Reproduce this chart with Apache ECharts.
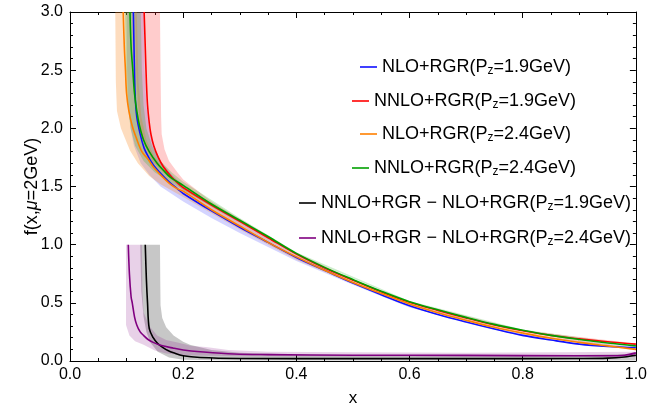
<!DOCTYPE html>
<html><head><meta charset="utf-8">
<script src="https://cdn.jsdelivr.net/npm/echarts@6/dist/echarts.min.js"></script>
<style>html,body{margin:0;padding:0;background:#fff}#c{width:650px;height:412px}</style>
</head><body><div id="c"></div>
<script>
// ---- series names
const names = ['NLO+RGR(Pz=1.9GeV)','NNLO+RGR(Pz=1.9GeV)','NLO+RGR(Pz=2.4GeV)','NNLO+RGR(Pz=2.4GeV)',
  'NNLO+RGR \u2212 NLO+RGR(Pz=1.9GeV)','NNLO+RGR \u2212 NLO+RGR(Pz=2.4GeV)'];
// ---- central curves [x, f]
const nlo19 = [[0.112,3.0],[0.1135,2.6],[0.115,2.3],[0.118,2.1],[0.124,1.95],[0.131,1.83],[0.138,1.76],[0.148,1.68],[0.159,1.62],[0.175,1.54],[0.19,1.48],[0.2,1.44],[0.25,1.29],[0.3,1.15],[0.35,1.02],[0.4,0.89],[0.45,0.78],[0.5,0.67],[0.55,0.57],[0.6,0.475],[0.65,0.40],[0.7,0.335],[0.75,0.275],[0.8,0.22],[0.85,0.18],[0.9,0.145],[0.95,0.125],[1.0,0.115]];
const nnlo19 = [[0.131,3.0],[0.133,2.7],[0.135,2.4],[0.137,2.2],[0.14,2.05],[0.143,1.95],[0.148,1.85],[0.156,1.75],[0.165,1.67],[0.18,1.58],[0.195,1.51],[0.2,1.49],[0.25,1.34],[0.3,1.20],[0.35,1.06],[0.4,0.92],[0.45,0.80],[0.5,0.695],[0.55,0.595],[0.6,0.505],[0.65,0.435],[0.7,0.37],[0.75,0.31],[0.8,0.26],[0.85,0.22],[0.9,0.19],[0.95,0.165],[1.0,0.145]];
const nlo24 = [[0.094,3.0],[0.096,2.7],[0.098,2.5],[0.1,2.3],[0.104,2.15],[0.11,2.02],[0.117,1.92],[0.127,1.8],[0.137,1.74],[0.147,1.67],[0.16,1.6],[0.175,1.53],[0.19,1.48],[0.2,1.46],[0.25,1.30],[0.3,1.16],[0.35,1.02],[0.4,0.895],[0.45,0.78],[0.5,0.675],[0.55,0.58],[0.6,0.49],[0.65,0.415],[0.7,0.35],[0.75,0.29],[0.8,0.24],[0.85,0.195],[0.9,0.16],[0.95,0.13],[1.0,0.10]];
const nnlo24 = [[0.106,3.0],[0.108,2.7],[0.111,2.5],[0.114,2.3],[0.118,2.15],[0.123,2.02],[0.13,1.9],[0.14,1.8],[0.154,1.70],[0.165,1.64],[0.177,1.58],[0.19,1.54],[0.2,1.51],[0.25,1.35],[0.3,1.21],[0.35,1.07],[0.4,0.925],[0.45,0.805],[0.5,0.70],[0.55,0.60],[0.6,0.51],[0.65,0.44],[0.7,0.375],[0.75,0.315],[0.8,0.265],[0.85,0.22],[0.9,0.185],[0.95,0.155],[1.0,0.13]];
const diff19 = [[0.133,1.0],[0.135,0.7],[0.137,0.5],[0.14,0.28],[0.147,0.20],[0.155,0.15],[0.163,0.12],[0.173,0.09],[0.183,0.07],[0.2,0.045],[0.23,0.03],[0.3,0.022],[0.5,0.02],[0.7,0.02],[0.9,0.022],[0.95,0.025],[0.98,0.035],[1.0,0.05]];
const diff24 = [[0.103,1.0],[0.105,0.75],[0.108,0.55],[0.11,0.5],[0.114,0.38],[0.118,0.31],[0.124,0.25],[0.13,0.22],[0.138,0.185],[0.147,0.16],[0.16,0.135],[0.183,0.11],[0.2,0.095],[0.23,0.08],[0.29,0.06],[0.35,0.055],[0.5,0.05],[0.7,0.048],[0.9,0.045],[0.95,0.045],[0.98,0.05],[1.0,0.07]];
// ---- uncertainty bands: upper and lower edges [x, f]
const nlo19Up = [[0.13,3],[0.132,2.5],[0.135,2.2],[0.14,2.0],[0.148,1.85],[0.16,1.72],[0.18,1.6],[0.2,1.51],[0.25,1.34],[0.3,1.19],[0.4,0.91],[0.5,0.68],[0.6,0.49],[0.8,0.23],[1.0,0.12]];
const nlo19Lo = [[0.1,3],[0.101,2.5],[0.103,2.2],[0.107,2.0],[0.113,1.85],[0.125,1.7],[0.14,1.6],[0.16,1.5],[0.2,1.37],[0.25,1.23],[0.3,1.10],[0.35,0.98],[0.4,0.86],[0.5,0.655],[0.6,0.46],[0.8,0.21],[1.0,0.11]];
const nnlo19Up = [[0.159,3],[0.16,2.5],[0.161,2.1],[0.162,1.95],[0.167,1.82],[0.175,1.72],[0.19,1.62],[0.2,1.56],[0.25,1.37],[0.3,1.22],[0.4,0.93],[0.5,0.70],[0.6,0.51],[0.8,0.265],[1.0,0.15]];
const nnlo19Lo = [[0.115,3],[0.117,2.5],[0.12,2.2],[0.125,2.0],[0.132,1.85],[0.145,1.72],[0.165,1.62],[0.2,1.47],[0.3,1.18],[0.4,0.91],[0.5,0.69],[0.6,0.50],[0.8,0.255],[1.0,0.14]];
const nlo24Up = [[0.118,3.0],[0.121,2.4],[0.126,2.1],[0.135,1.9],[0.15,1.75],[0.17,1.63],[0.2,1.50],[0.25,1.33],[0.3,1.18],[0.4,0.91],[0.5,0.685],[0.6,0.5],[0.8,0.25],[1.0,0.11]];
const nlo24Lo = [[0.08,3],[0.081,2.4],[0.083,2.15],[0.09,2.0],[0.1,1.88],[0.106,1.81],[0.12,1.7],[0.14,1.59],[0.16,1.52],[0.2,1.41],[0.25,1.27],[0.3,1.13],[0.4,0.87],[0.5,0.665],[0.6,0.48],[0.8,0.23],[1.0,0.09]];
const nnlo24Up = [[0.125,3],[0.127,2.5],[0.13,2.2],[0.135,2.0],[0.145,1.85],[0.16,1.72],[0.18,1.62],[0.2,1.54],[0.3,1.23],[0.4,0.935],[0.6,0.515],[0.8,0.27],[1.0,0.135]];
const nnlo24Lo = [[0.097,3],[0.099,2.5],[0.102,2.2],[0.107,2.0],[0.115,1.85],[0.13,1.72],[0.15,1.62],[0.2,1.47],[0.3,1.19],[0.4,0.915],[0.6,0.505],[0.8,0.26],[1.0,0.125]];
const diff19Up = [[0.124,1.0],[0.159,1.0],[0.1595,0.7],[0.16,0.48],[0.163,0.37],[0.17,0.29],[0.183,0.22],[0.2,0.165],[0.212,0.14],[0.25,0.095],[0.3,0.07],[0.4,0.055],[0.6,0.045],[0.8,0.045],[1.0,0.06]];
const diff19Lo = [[0.124,1.0],[0.126,0.6],[0.13,0.38],[0.135,0.25],[0.142,0.16],[0.155,0.08],[0.175,0.03],[0.2,0.01],[0.3,0.005],[1.0,0.005]];
const diff24Up = [[0.099,1.0],[0.127,1.0],[0.128,0.6],[0.13,0.42],[0.14,0.3],[0.154,0.22],[0.17,0.18],[0.19,0.16],[0.215,0.13],[0.24,0.12],[0.28,0.095],[0.35,0.08],[0.5,0.075],[0.7,0.07],[1.0,0.08]];
const diff24Lo = [[0.099,1.0],[0.099,0.31],[0.105,0.22],[0.115,0.17],[0.13,0.14],[0.15,0.09],[0.17,0.065],[0.2,0.05],[0.3,0.04],[1.0,0.035]];
// ---- ticks
const xTicks = [0, 0.2, 0.4, 0.6, 0.8, 1.0];
const yTicks = [0, 0.5, 1.0, 1.5, 2.0, 2.5, 3.0];

const lineColors = ['#1010ff','#ff0000','#ff8000','#00a000','#000000','#800080'];
const bandColors = ['rgba(60,60,255,0.22)','rgba(255,40,40,0.24)','rgba(250,140,40,0.30)','rgba(0,170,0,0.20)','rgba(0,0,0,0.22)','rgba(128,0,128,0.18)'];
const curves = [nlo19, nnlo19, nlo24, nnlo24, diff19, diff24];
const bands = [[nlo19Up,nlo19Lo],[nnlo19Up,nnlo19Lo],[nlo24Up,nlo24Lo],[nnlo24Up,nnlo24Lo],[diff19Up,diff19Lo],[diff24Up,diff24Lo]];

const FONT = 'Liberation Sans, Arial, sans-serif';

function bandSeries(up, lo, color) {
  const pts = up.concat(lo.slice().reverse());
  return {
    type: 'custom', coordinateSystem: 'cartesian2d', silent: true, z: 1, clip: true,
    data: pts,
    renderItem: function (params, api) {
      if (params.dataIndex !== 0) return null;
      return { type: 'polygon', shape: { points: pts.map(p => api.coord(p)), smooth: 0 }, style: { fill: color } };
    }
  };
}

const series = [];
bands.forEach((b, i) => series.push(bandSeries(b[0], b[1], bandColors[i])));
curves.forEach((c, i) => series.push({
  name: names[i], type: 'line', data: c, symbol: 'none', showSymbol: false,
  smooth: 0.35, clip: true, z: 3,
  lineStyle: { color: lineColors[i], width: 1.6 }, itemStyle: { color: lineColors[i] }
}));

const legendLeft = [360, 352, 360, 352, 299, 299];
const legendTop = [57, 91, 124, 158, 193, 228];
const legends = names.map((n, i) => ({
  data: [{ name: n, icon: 'rect' }], left: legendLeft[i], top: legendTop[i], padding: 0,
  itemWidth: 17, itemHeight: 1.6, selectedMode: false,
  formatter: s => s.replace('Pz', 'P{sub|z}'),
  textStyle: { fontFamily: FONT, fontSize: 18, color: '#000', lineHeight: 20,
    rich: { sub: { fontSize: 12, lineHeight: 11, verticalAlign: 'bottom', fontFamily: FONT, color: '#000' } } }
}));

const axisCommon = {
  axisLine: { show: true, onZero: false, lineStyle: { color: '#000', width: 1 } },
  axisTick: { show: true, inside: true, length: 6, lineStyle: { color: '#000' } },
  minorTick: { show: true, length: 3, lineStyle: { color: '#000' } },
  splitLine: { show: false }
};

const option = {
  animation: false,
  backgroundColor: '#fff',
  grid: { left: 70, right: 14, top: 12, bottom: 51, containLabel: false },
  legend: legends,
  xAxis: [
    Object.assign({}, axisCommon, {
      type: 'value', min: xTicks[0], max: xTicks[xTicks.length - 1], interval: 0.2, position: 'bottom',
      minorTick: Object.assign({}, axisCommon.minorTick, { splitNumber: 4 }),
      axisLabel: { fontFamily: FONT, fontSize: 16, color: '#000', margin: 6, formatter: v => v.toFixed(1) },
      name: 'x', nameLocation: 'middle', nameGap: 29, nameMoveOverlap: false,
      nameTextStyle: { fontFamily: FONT, fontSize: 17, color: '#000' }
    }),
    Object.assign({}, axisCommon, {
      type: 'value', min: 0, max: 1, interval: 0.2, position: 'top',
      minorTick: Object.assign({}, axisCommon.minorTick, { splitNumber: 4 }),
      axisLabel: { show: false }
    })
  ],
  yAxis: [
    Object.assign({}, axisCommon, {
      type: 'value', min: yTicks[0], max: yTicks[yTicks.length - 1], interval: 0.5, position: 'left',
      minorTick: Object.assign({}, axisCommon.minorTick, { splitNumber: 5 }),
      axisLabel: { fontFamily: FONT, fontSize: 16, color: '#000', margin: 7, formatter: v => v.toFixed(1) },
      name: 'f(x,{i|\u03bc}=2GeV)', nameLocation: 'middle', nameGap: 29, nameMoveOverlap: false,
      nameTextStyle: { fontFamily: FONT, fontSize: 18, color: '#000',
        rich: { i: { fontFamily: FONT, fontSize: 18, fontStyle: 'italic', color: '#000' } } }
    }),
    Object.assign({}, axisCommon, {
      type: 'value', min: 0, max: 3, interval: 0.5, position: 'right',
      minorTick: Object.assign({}, axisCommon.minorTick, { splitNumber: 5 }),
      axisLabel: { show: false }
    })
  ],
  series: series
};

const chart = echarts.init(document.getElementById('c'), null, { renderer: 'canvas' });
chart.setOption(option);
</script>
</body></html>
